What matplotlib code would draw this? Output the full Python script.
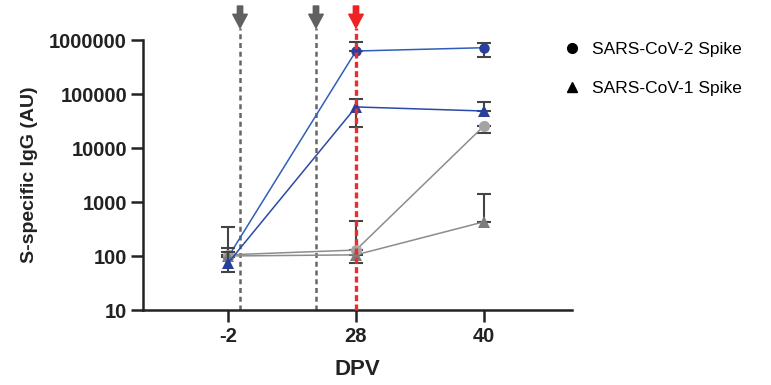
import numpy as np
import matplotlib
matplotlib.use('Agg')
import matplotlib.pyplot as plt
import matplotlib.transforms as mtransforms

plt.rcParams['font.family'] = ['Liberation Sans', 'DejaVu Sans']

# data
dpv_labels = ['-2', '28', '40']
x = np.arange(len(dpv_labels))

cov2_vacc = [95, 625000, 720000]
cov2_vacc_lo = [95, 625000, 490000]
cov2_vacc_hi = [95, 920000, 870000]

cov1_vacc = [74, 57600, 48400]
cov1_vacc_lo = [51, 24500, 48400]
cov1_vacc_hi = [120, 81000, 70000]

cov2_ctrl = [105, 129, 25700]
cov2_ctrl_lo = [105, 129, 19000]
cov2_ctrl_hi = [345, 450, 25700]

cov1_ctrl = [100, 105, 430]
cov1_ctrl_lo = [100, 74, 430]
cov1_ctrl_hi = [140, 105, 1400]

dose_pos = [0.094, 0.6875]   # earlier doses (gray arrows)
challenge_pos = 1.0         # red arrow

ytick_vals = [10, 100, 1000, 10000, 100000, 1000000]
ytick_labels = ['10', '100', '1000', '10000', '100000', '1000000']

fig = plt.figure(figsize=(7.71, 3.85), dpi=100)
ax = fig.add_axes([143/771, 1-310/385, (572-143)/771, 270/385])

def series(vals, lo, hi, line_c, mark_c, marker, ms, z):
    vals = np.array(vals, float)
    err = [vals - np.array(lo, float), np.array(hi, float) - vals]
    ax.errorbar(x, vals, yerr=err, fmt='none', ecolor='#444444', elinewidth=1.5,
                capsize=5, capthick=1.5, zorder=z)
    ax.plot(x, vals, '-', color=line_c, lw=1.1, zorder=z+0.1)
    ax.plot(x, vals, marker, color=mark_c, ms=ms, mew=0, zorder=z+0.2)

series(cov2_vacc, cov2_vacc_lo, cov2_vacc_hi, '#2f5fb8', '#2a3f9c', 'o', 7.5, 3)
series(cov2_ctrl, cov2_ctrl_lo, cov2_ctrl_hi, '#8c8c8c', '#a4a4a4', 'o', 8, 4)
series(cov1_ctrl, cov1_ctrl_lo, cov1_ctrl_hi, '#8c8c8c', '#7c7c7c', '^', 8, 4)
series(cov1_vacc, cov1_vacc_lo, cov1_vacc_hi, '#2a4aa8', '#2a3f9c', '^', 8, 5)

trans = mtransforms.blended_transform_factory(ax.transData, ax.transAxes)
top = 1 + 12/270
arrow = dict(arrowstyle='simple,head_length=0.9,head_width=0.95,tail_width=0.35',
             mutation_scale=11, shrinkA=0, shrinkB=0)
for xp in dose_pos:
    ax.plot([xp, xp], [0, top], transform=trans, color='#666666', lw=1.8,
            ls=(0, (2, 1.5)), clip_on=False, zorder=2)
    ax.annotate('', xy=(xp, top), xytext=(xp, 1 + 34/270), xycoords=trans, textcoords=trans,
                arrowprops=dict(arrow, color='#5f6060'))
ax.plot([challenge_pos, challenge_pos], [0, top], transform=trans, color='#ee2a2a', lw=2.4,
        ls=(0, (1.8, 1.0)), clip_on=False, zorder=6)
ax.annotate('', xy=(challenge_pos, top), xytext=(challenge_pos, 1 + 34/270), xycoords=trans,
            textcoords=trans, arrowprops=dict(arrow, color='#ee2222'))

ax.set_yscale('log')
ax.set_ylim(10, 1000000)
ax.set_xlim(-0.664, 2.6875)
ax.set_yticks(ytick_vals)
ax.set_yticklabels(ytick_labels)
ax.minorticks_off()
ax.set_xticks(x)
ax.set_xticklabels(dpv_labels)

for s in ['top', 'right']:
    ax.spines[s].set_visible(False)
for s in ['left', 'bottom']:
    ax.spines[s].set_linewidth(1.8)
    ax.spines[s].set_color('#222222')
ax.tick_params(axis='both', length=8.5, width=1.8, color='#222222', labelsize=14.5, pad=3)
ax.tick_params(axis='x', pad=4)
for lab in ax.get_xticklabels() + ax.get_yticklabels():
    lab.set_fontweight('bold')
    lab.set_color('#222222')

ax.set_ylabel('S-specific IgG (AU)', fontsize=14, fontweight='bold', color='#222222', labelpad=8)
ax.set_xlabel('DPV', fontsize=16, fontweight='bold', color='#222222', labelpad=9)

h1, = ax.plot([], [], 'o', color='black', ms=7)
h2, = ax.plot([], [], '^', color='black', ms=7)
fig.legend([h1, h2], ['SARS-CoV-2 Spike', 'SARS-CoV-1 Spike'],
           loc='upper left', bbox_to_anchor=(546/771, 1-26/385), frameon=False,
           fontsize=12.5, handlelength=1.2, handletextpad=0.55, labelspacing=1.4)

fig.savefig('out.png', dpi=100)
